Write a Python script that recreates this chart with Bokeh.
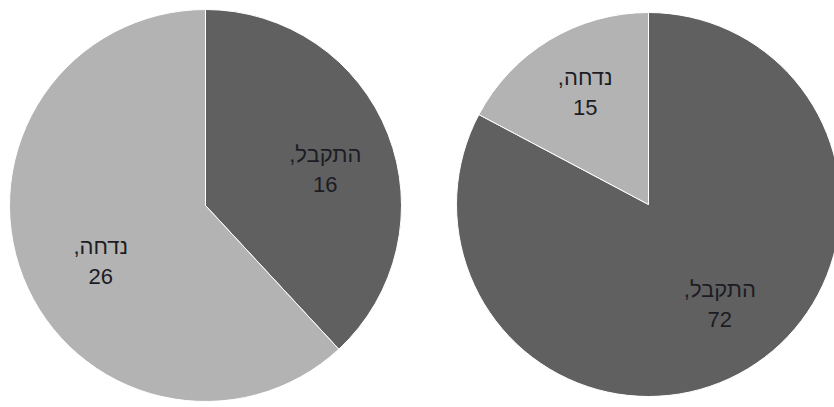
import math
from bokeh.plotting import figure
from bokeh.models import ColumnDataSource, Range1d
from bokeh.core.properties import value
from bokeh.embed import file_html
from bokeh.resources import INLINE

# Data
categories = ["התקבל", "נדחה"]
left_values = [16, 26]
right_values = [72, 15]
colors = ["#606060", "#b3b3b3"]

W, H = 834, 407
p = figure(width=W, height=H, output_backend="svg", toolbar_location=None,
           x_range=Range1d(0, W), y_range=Range1d(0, H), min_border=0,
           outline_line_color=None, background_fill_color="white")
p.axis.visible = False
p.grid.visible = False


def add_pie(cx, cy, r, values, nudges):
    total = sum(values)
    starts, ends, lx, ly, texts = [], [], [], [], []
    cum = 0
    for v, cat in zip(values, categories):
        a0 = math.pi / 2 - 2 * math.pi * cum / total
        cum += v
        a1 = math.pi / 2 - 2 * math.pi * cum / total
        starts.append(a0)
        ends.append(a1)
        mid = (a0 + a1) / 2
        lx.append(cx + 0.64 * r * math.cos(mid))
        ly.append(cy + 0.64 * r * math.sin(mid))
        texts.append(cat + ",\u200f\n" + str(v))
    src = ColumnDataSource(dict(x=[cx] * len(values), y=[cy] * len(values),
                                start=starts, end=ends, color=colors[:len(values)]))
    p.wedge(x="x", y="y", radius=r, start_angle="start", end_angle="end",
            direction="clock", fill_color="color", line_color="white",
            line_width=1.0, source=src)
    lsrc = ColumnDataSource(dict(x=lx, y=ly, text=texts,
                                 xo=[n[0] for n in nudges], yo=[n[1] for n in nudges]))
    p.text(x="x", y="y", text="text", source=lsrc, x_offset="xo", y_offset="yo",
           text_font=value("Liberation Sans"), text_font_size="22px",
           text_color="#1c1c24", text_align="center", text_baseline="middle",
           text_line_height=1.2)


add_pie(205, H - 205, 196, left_values, [(3, 10), (12, 10)])
add_pie(648, H - 204, 192, right_values, [(8, -5), (0, -7)])

open("out.html", "w").write(file_html(p, INLINE))
